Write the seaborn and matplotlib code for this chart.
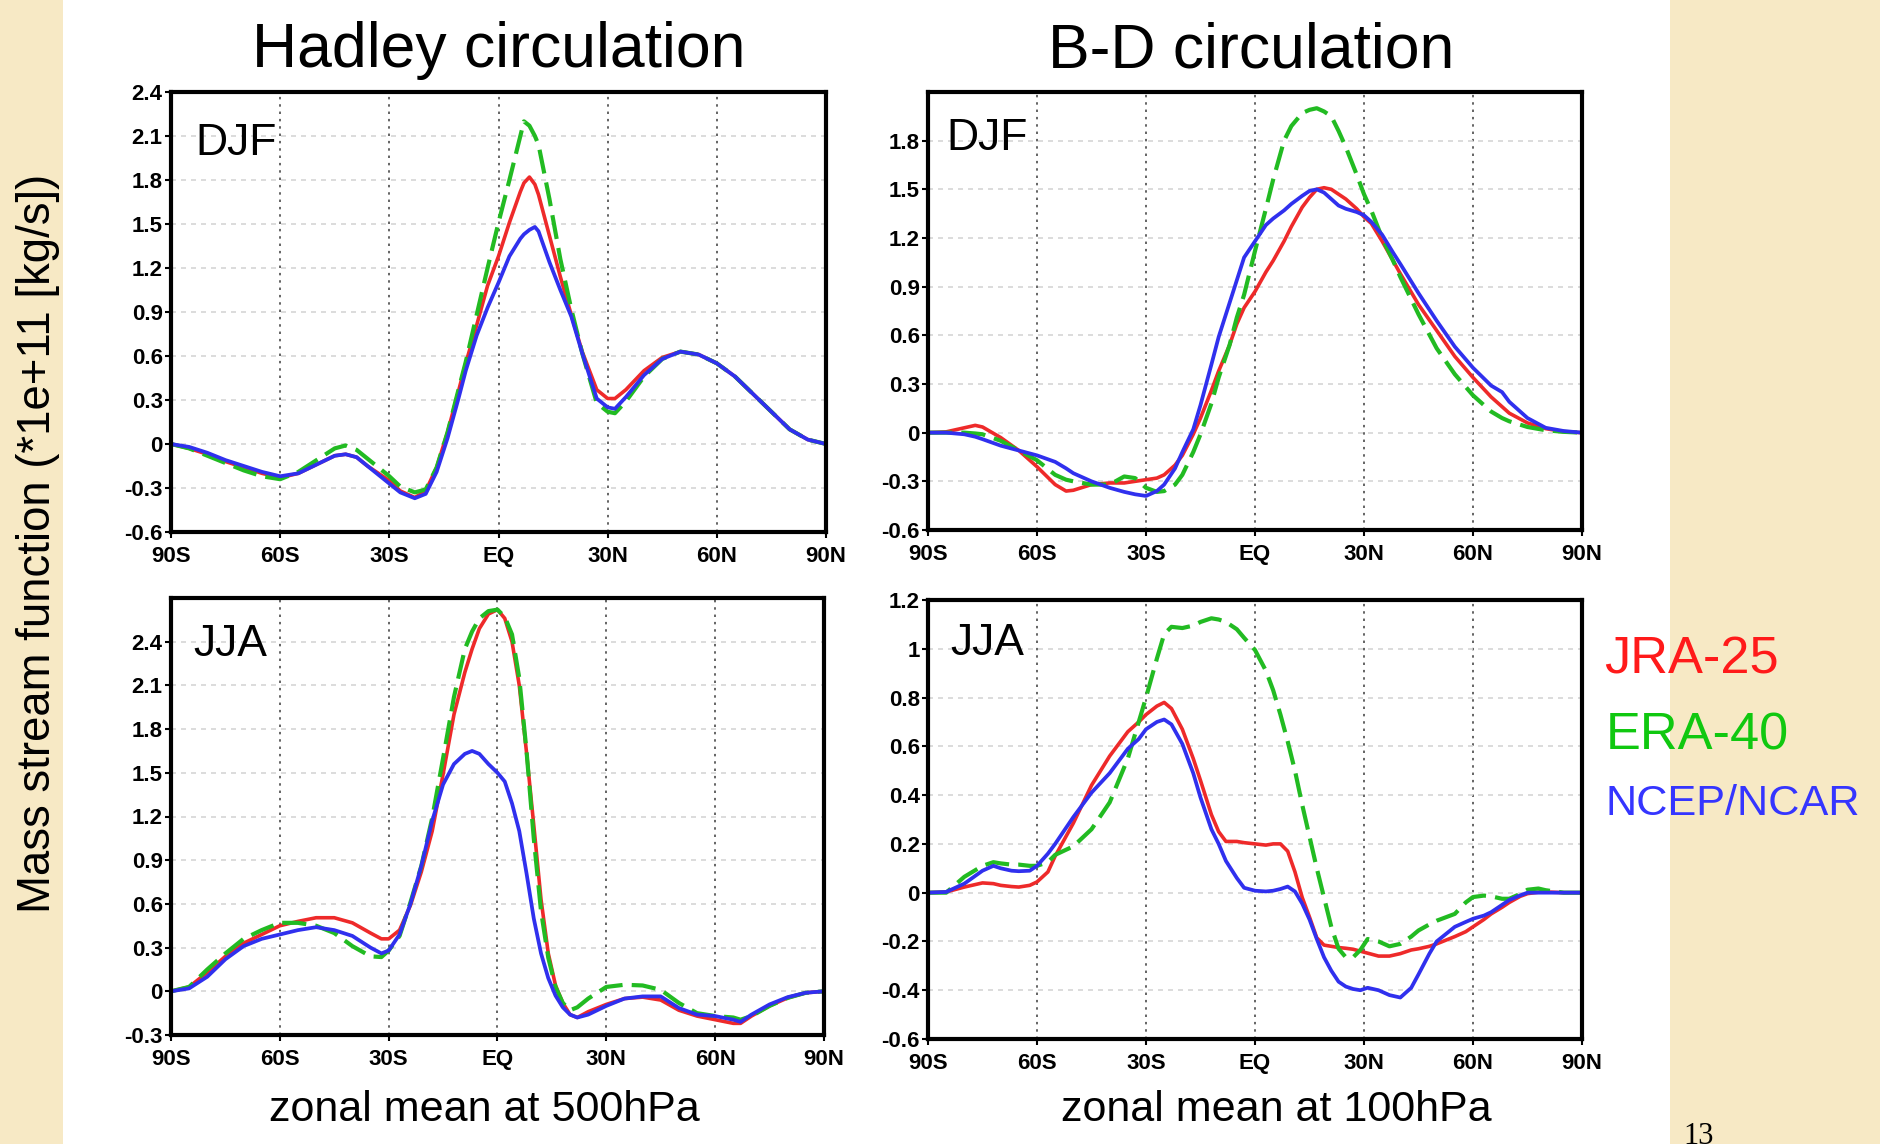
import numpy as np
import pandas as pd
import matplotlib
matplotlib.use("Agg")
import matplotlib.pyplot as plt
import seaborn as sns
from matplotlib import font_manager as fm
from matplotlib.patches import Rectangle

# ---------------- data (latitude in degrees, values in 1e11 kg/s) ----------------
# Hadley circulation, DJF (500 hPa)
had_djf_lat = [-90, -85, -80, -75, -70, -65, -60, -55, -50, -45, -42, -39, -36, -33, -30, -27, -23, -20,
               -17, -14, -11, -9, -6, -3, 0, 3, 6, 7, 8.5, 10, 11, 14, 17, 20, 23, 27, 30, 32, 35, 40,
               45, 50, 55, 60, 65, 70, 75, 80, 85, 90]
had_djf_jra = [0, -0.03, -0.07, -0.12, -0.16, -0.20, -0.23, -0.20, -0.14, -0.08, -0.07, -0.09, -0.15, -0.20,
               -0.25, -0.32, -0.365, -0.32, -0.16, 0.08, 0.36, 0.55, 0.81, 1.08, 1.28, 1.51, 1.72, 1.78, 1.82,
               1.77, 1.70, 1.42, 1.14, 0.88, 0.63, 0.37, 0.31, 0.31, 0.37, 0.50, 0.59, 0.63, 0.61, 0.55, 0.46,
               0.34, 0.22, 0.10, 0.03, 0]
had_djf_era = [0, -0.03, -0.08, -0.13, -0.18, -0.22, -0.24, -0.19, -0.11, -0.03, -0.01, -0.04, -0.10, -0.16,
               -0.22, -0.29, -0.33, -0.31, -0.16, 0.08, 0.37, 0.56, 0.88, 1.20, 1.51, 1.80, 2.10, 2.20, 2.17,
               2.10, 2.04, 1.67, 1.26, 0.92, 0.62, 0.28, 0.22, 0.21, 0.29, 0.46, 0.58, 0.63, 0.61, 0.55, 0.46,
               0.34, 0.22, 0.10, 0.03, 0]
had_djf_ncep = [0, -0.02, -0.06, -0.11, -0.15, -0.19, -0.22, -0.20, -0.14, -0.08, -0.07, -0.09, -0.15, -0.21,
                -0.27, -0.33, -0.37, -0.34, -0.19, 0.04, 0.31, 0.50, 0.74, 0.93, 1.10, 1.28, 1.40, 1.43, 1.46,
                1.48, 1.45, 1.24, 1.05, 0.87, 0.62, 0.31, 0.25, 0.24, 0.32, 0.47, 0.58, 0.63, 0.61, 0.55, 0.46,
                0.34, 0.22, 0.10, 0.03, 0]

# B-D circulation, DJF (100 hPa)
bd_djf_lat = [-90, -85, -80, -77, -75, -70, -65, -60, -55, -52, -50, -45, -40, -36, -33, -30, -27, -25, -22,
              -20, -17, -15, -12, -10, -7, -5, -3, 0, 3, 5, 8, 10, 13, 15, 17, 19, 21, 23, 25, 28, 30, 32,
              35, 38, 40, 45, 50, 55, 60, 65, 68, 70, 75, 80, 85, 90]
bd_djf_jra = [0, 0.005, 0.03, 0.045, 0.035, -0.03, -0.11, -0.21, -0.32, -0.36, -0.355, -0.32, -0.31, -0.31,
              -0.30, -0.29, -0.28, -0.26, -0.20, -0.14, -0.01, 0.09, 0.26, 0.38, 0.54, 0.67, 0.77, 0.87, 0.99,
              1.06, 1.18, 1.27, 1.39, 1.45, 1.50, 1.51, 1.50, 1.47, 1.44, 1.38, 1.33, 1.29, 1.18, 1.06, 0.98,
              0.79, 0.63, 0.47, 0.34, 0.22, 0.16, 0.12, 0.06, 0.025, 0.006, 0]
bd_djf_era = [0, 0, 0, -0.005, -0.01, -0.05, -0.11, -0.17, -0.26, -0.29, -0.30, -0.32, -0.32, -0.27, -0.28,
              -0.34, -0.365, -0.36, -0.32, -0.26, -0.12, -0.01, 0.18, 0.34, 0.54, 0.71, 0.85, 1.12, 1.38, 1.56,
              1.80, 1.89, 1.97, 1.99, 2.00, 1.98, 1.95, 1.86, 1.76, 1.59, 1.47, 1.37, 1.20, 1.06, 0.96, 0.73,
              0.52, 0.36, 0.23, 0.13, 0.09, 0.07, 0.035, 0.015, 0.005, 0]
bd_djf_ncep = [0, 0, -0.01, -0.025, -0.04, -0.08, -0.11, -0.14, -0.18, -0.22, -0.25, -0.30, -0.34, -0.365,
               -0.38, -0.39, -0.36, -0.32, -0.22, -0.12, 0.02, 0.17, 0.42, 0.59, 0.80, 0.94, 1.08, 1.18, 1.28,
               1.32, 1.37, 1.41, 1.46, 1.49, 1.50, 1.48, 1.44, 1.40, 1.38, 1.36, 1.34, 1.30, 1.22, 1.11, 1.04,
               0.86, 0.69, 0.53, 0.40, 0.29, 0.25, 0.19, 0.09, 0.03, 0.01, 0]

# Hadley circulation, JJA (500 hPa)
had_jja_lat = [-90, -85, -80, -75, -70, -65, -60, -55, -50, -45, -40, -35, -32, -30, -27, -24, -21, -18, -15,
               -12, -9, -7, -5, -2.5, 0, 2, 4, 6, 8, 10, 12, 14, 16, 18, 20, 22, 25, 30, 35, 40, 45, 50, 55,
               60, 65, 67, 70, 75, 80, 85, 90]
had_jja_jra = [0, 0.03, 0.13, 0.24, 0.33, 0.39, 0.45, 0.48, 0.505, 0.505, 0.47, 0.40, 0.36, 0.36, 0.42, 0.59,
               0.82, 1.10, 1.49, 1.90, 2.19, 2.35, 2.49, 2.59, 2.62, 2.56, 2.40, 2.10, 1.64, 1.14, 0.63, 0.26,
               0.04, -0.08, -0.16, -0.18, -0.14, -0.09, -0.05, -0.04, -0.06, -0.13, -0.17, -0.195, -0.22, -0.22,
               -0.17, -0.10, -0.045, -0.01, 0]
had_jja_era = [0, 0.03, 0.15, 0.26, 0.36, 0.42, 0.47, 0.47, 0.45, 0.40, 0.31, 0.24, 0.235, 0.28, 0.38, 0.61,
               0.86, 1.19, 1.60, 2.02, 2.35, 2.47, 2.56, 2.61, 2.62, 2.57, 2.45, 2.15, 1.65, 1.05, 0.55, 0.23,
               0.03, -0.08, -0.13, -0.11, -0.05, 0.03, 0.045, 0.04, 0.01, -0.08, -0.15, -0.17, -0.18, -0.195,
               -0.17, -0.10, -0.045, -0.01, 0]
had_jja_ncep = [0, 0.02, 0.10, 0.22, 0.31, 0.36, 0.39, 0.42, 0.44, 0.42, 0.38, 0.30, 0.26, 0.28, 0.39, 0.60,
                0.86, 1.17, 1.42, 1.56, 1.63, 1.65, 1.63, 1.56, 1.50, 1.44, 1.29, 1.10, 0.81, 0.50, 0.26, 0.09,
                -0.03, -0.11, -0.16, -0.18, -0.16, -0.10, -0.05, -0.035, -0.035, -0.115, -0.16, -0.17, -0.195,
                -0.21, -0.16, -0.09, -0.04, -0.01, 0]

# B-D circulation, JJA (100 hPa)
bd_jja_lat = [-90, -85, -80, -75, -72, -70, -67, -65, -62, -60, -57, -55, -50, -45, -40, -35, -32, -30, -27,
              -25, -23, -20, -17, -15, -12, -10, -8, -5, -3, 0, 3, 5, 7, 9, 11, 13, 15, 17, 19, 21, 23, 25,
              27, 29, 31, 34, 37, 40, 43, 45, 48, 50, 55, 58, 60, 63, 65, 68, 70, 73, 75, 78, 80, 85, 90]
bd_jja_jra = [0, 0.003, 0.023, 0.04, 0.037, 0.03, 0.025, 0.023, 0.03, 0.044, 0.085, 0.15, 0.285, 0.44, 0.56,
              0.66, 0.70, 0.73, 0.765, 0.78, 0.755, 0.67, 0.55, 0.46, 0.32, 0.25, 0.21, 0.21, 0.205, 0.20,
              0.195, 0.20, 0.20, 0.17, 0.085, -0.02, -0.10, -0.185, -0.215, -0.22, -0.225, -0.228, -0.232,
              -0.24, -0.248, -0.26, -0.26, -0.25, -0.235, -0.23, -0.22, -0.21, -0.18, -0.16, -0.14, -0.11,
              -0.087, -0.06, -0.04, -0.015, -0.004, 0.002, 0.003, 0, 0]
bd_jja_era = [0, 0, 0.065, 0.11, 0.125, 0.12, 0.115, 0.115, 0.11, 0.11, 0.125, 0.155, 0.19, 0.26, 0.37, 0.55,
              0.70, 0.80, 0.96, 1.06, 1.09, 1.085, 1.095, 1.11, 1.125, 1.12, 1.11, 1.08, 1.045, 0.995, 0.91,
              0.83, 0.73, 0.62, 0.50, 0.36, 0.23, 0.10, -0.02, -0.14, -0.23, -0.265, -0.265, -0.235, -0.19,
              -0.20, -0.22, -0.21, -0.18, -0.155, -0.13, -0.115, -0.087, -0.04, -0.018, -0.012, -0.015,
              -0.025, -0.025, -0.005, 0.012, 0.017, 0.01, 0, 0]
bd_jja_ncep = [0, 0.003, 0.037, 0.09, 0.11, 0.10, 0.09, 0.088, 0.09, 0.11, 0.16, 0.20, 0.31, 0.41, 0.49, 0.59,
               0.63, 0.67, 0.70, 0.71, 0.69, 0.61, 0.49, 0.39, 0.26, 0.20, 0.13, 0.06, 0.02, 0.008, 0.005,
               0.008, 0.015, 0.025, 0.005, -0.045, -0.11, -0.19, -0.265, -0.32, -0.365, -0.385, -0.395, -0.40,
               -0.39, -0.40, -0.42, -0.43, -0.39, -0.335, -0.25, -0.20, -0.14, -0.12, -0.107, -0.094, -0.08,
               -0.05, -0.03, -0.011, 0.0, 0, 0, 0, 0]

x_ticks = [-90, -60, -30, 0, 30, 60, 90]
x_labels = ["90S", "60S", "30S", "EQ", "30N", "60N", "90N"]
series_names = ["JRA-25", "ERA-40", "NCEP/NCAR"]
panel_titles = ["Hadley circulation", "B-D circulation"]
bottom_labels = ["zonal mean at 500hPa", "zonal mean at 100hPa"]
y_label = "Mass stream function (*1e+11 [kg/s])"

# ---------------- style ----------------
sns.set_style("white")


def has_font(name):
    try:
        fm.findfont(fm.FontProperties(family=name), fallback_to_default=False)
        return True
    except Exception:
        return False


SANS = "Liberation Sans" if has_font("Liberation Sans") else "DejaVu Sans"
NARROW_OK = has_font("Liberation Sans Narrow")
NARROW = "Liberation Sans Narrow" if NARROW_OK else SANS
nscale = 1.0 if NARROW_OK else 0.82
plt.rcParams["font.family"] = [SANS, "DejaVu Sans"]
plt.rcParams["text.color"] = "black"
plt.rcParams["xtick.color"] = "black"
plt.rcParams["ytick.color"] = "black"
plt.rcParams["axes.labelcolor"] = "black"

RED = "#EE2A2A"
GREEN = "#22BB22"
BLUE = "#3030EE"

W, H = 1881, 1144
fig = plt.figure(figsize=(W / 100, H / 100), dpi=100, facecolor="#F7E9C5")
fig.patches.append(Rectangle((63 / W, 0), (1670 - 63) / W, 1, transform=fig.transFigure,
                             facecolor="white", edgecolor="none", zorder=-5))


def fmt(v):
    return f"{round(v, 2):g}"


def panel(rect, lat, jra, era, ncep, ylim, yticks, season, spos):
    ax = fig.add_axes(rect)
    ax.set_zorder(2)
    ax.set_facecolor("white")
    # grid
    for v in [-60, -30, 0, 30, 60]:
        ax.axvline(v, color="#3a3a3a", lw=1.1, ls=(0, (1.6, 3.2)), zorder=1)
    for v in yticks:
        if ylim[0] < v < ylim[1]:
            ax.axhline(v, color="#d6d6d6", lw=1.2, ls=(0, (3, 3)), zorder=1)
    sns.lineplot(x=lat, y=jra, ax=ax, color=RED, lw=2.6, errorbar=None, zorder=3)
    sns.lineplot(x=lat, y=era, ax=ax, color=GREEN, lw=3.0, errorbar=None,
                 linestyle=(0, (5.8, 2.2)), zorder=4)
    sns.lineplot(x=lat, y=ncep, ax=ax, color=BLUE, lw=2.7, errorbar=None, zorder=5)
    ax.set_xlim(-90, 90)
    ax.set_ylim(*ylim)
    ax.set_xticks(x_ticks)
    ax.set_xticklabels(x_labels)
    ax.set_yticks(yticks)
    ax.set_yticklabels([fmt(v) for v in yticks])
    ax.set_xlabel("")
    ax.set_ylabel("")
    for sp in ax.spines.values():
        sp.set_visible(True)
        sp.set_color("black")
        sp.set_linewidth(3.0)
        sp.set_zorder(6)
    ax.tick_params(axis="both", direction="out", length=4, width=1.5, color="black",
                   labelcolor="black", left=True, bottom=True)
    ax.tick_params(axis="x", labelsize=16, pad=6)
    ax.tick_params(axis="y", labelsize=16, pad=2)
    for lab in ax.get_xticklabels() + ax.get_yticklabels():
        lab.set_fontweight("bold")
    ax.text(spos[0], spos[1], season, transform=ax.transAxes, fontsize=32, color="black",
            ha="left", va="baseline", zorder=7)
    return ax


panel([171 / W, 1 - 532 / H, 655 / W, 440 / H], had_djf_lat, had_djf_jra, had_djf_era, had_djf_ncep,
      (-0.6, 2.4), [-0.6, -0.3, 0, 0.3, 0.6, 0.9, 1.2, 1.5, 1.8, 2.1, 2.4], "DJF", (0.037, 0.857))
panel([928 / W, 1 - 530 / H, 654 / W, 438 / H], bd_djf_lat, bd_djf_jra, bd_djf_era, bd_djf_ncep,
      (-0.6, 2.1), [-0.6, -0.3, 0, 0.3, 0.6, 0.9, 1.2, 1.5, 1.8], "DJF", (0.028, 0.868))
panel([171 / W, 1 - 1035 / H, 653 / W, 437 / H], had_jja_lat, had_jja_jra, had_jja_era, had_jja_ncep,
      (-0.3, 2.7), [-0.3, 0, 0.3, 0.6, 0.9, 1.2, 1.5, 1.8, 2.1, 2.4], "JJA", (0.034, 0.868))
panel([928 / W, 1 - 1039 / H, 654 / W, 439 / H], bd_jja_lat, bd_jja_jra, bd_jja_era, bd_jja_ncep,
      (-0.6, 1.2), [-0.6, -0.4, -0.2, 0, 0.2, 0.4, 0.6, 0.8, 1.0, 1.2], "JJA", (0.034, 0.874))

# titles and labels
fig.text(499 / W, 1 - 67 / H, panel_titles[0], fontsize=45, ha="center", va="baseline", color="black")
fig.text(1251 / W, 1 - 68 / H, panel_titles[1], fontsize=45, ha="center", va="baseline", color="black")
fig.text(484 / W, 1 - 1121 / H, bottom_labels[0], fontsize=31, ha="center", va="baseline", color="black")
fig.text(1276 / W, 1 - 1121 / H, bottom_labels[1], fontsize=31, ha="center", va="baseline", color="black")
fig.text(38 / W, 1 - 543 / H, y_label, fontsize=40 * nscale, rotation=90, ha="center", va="center",
         color="black", family=[NARROW, "DejaVu Sans"])

# legend as coloured text
fig.text(1604 / W, 1 - 673 / H, series_names[0], color="#FF1A1A", fontsize=46 * nscale,
         ha="left", va="baseline", family=[NARROW, "DejaVu Sans"])
fig.text(1606 / W, 1 - 749 / H, series_names[1], color="#10C810", fontsize=46 * nscale,
         ha="left", va="baseline", family=[NARROW, "DejaVu Sans"])
fig.text(1606 / W, 1 - 815 / H, series_names[2], color="#3535FF", fontsize=38 * nscale,
         ha="left", va="baseline", family=[NARROW, "DejaVu Sans"])

# page number (partly cut off at the bottom edge, as on the slide)
fig.text(1683 / W, 1 - 1122 / H, "13", fontsize=22, ha="left", va="top", color="black",
         family=["Liberation Serif", "DejaVu Serif"])

fig.savefig("out.png", dpi=100, facecolor=fig.get_facecolor())
